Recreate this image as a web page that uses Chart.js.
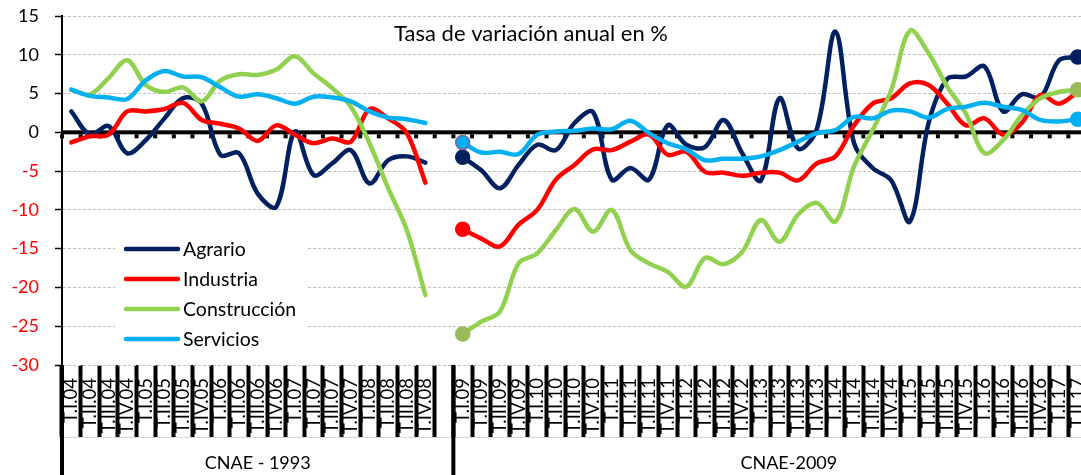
<!DOCTYPE html>
<html>
<head>
<meta charset="utf-8">
<script src="https://cdn.jsdelivr.net/npm/chart.js@4"></script>
<style>
  html, body { margin: 0; padding: 0; background: #fff; overflow: hidden; }
  #wrap { width: 1081px; height: 475px; overflow: hidden; }
</style>
</head>
<body>
<div id="wrap"><canvas id="chart" width="1100" height="475"></canvas></div>
<script>
// === Data ===
const labels1993 = [
  "T.I.04", "T.II.04", "T.III.04", "T.IV.04",
  "T.I.05", "T.II.05", "T.III.05", "T.IV.05",
  "T.I.06", "T.II.06", "T.III.06", "T.IV.06",
  "T.I.07", "T.II.07", "T.III.07", "T.IV.07",
  "T.I.08", "T.II.08", "T.III.08", "T.IV.08",
];
const labels2009 = [
  "T.I.09", "T.II.09", "T.III.09", "T.IV.09",
  "T.I.10", "T.II.10", "T.III.10", "T.IV.10",
  "T.I.11", "T.II.11", "T.III.11", "T.IV.11",
  "T.I.12", "T.II.12", "T.III.12", "T.IV.12",
  "T.I.13", "T.II.13", "T.III.13", "T.IV.13",
  "T.I.14", "T.II.14", "T.III.14", "T.IV.14",
  "T.I.15", "T.II.15", "T.III.15", "T.IV.15",
  "T.I.16", "T.II.16", "T.III.16", "T.IV.16",
  "T.I.17", "T.II.17",
];
// one blank quarter separates the two series
const quarters = [...labels1993, "", ...labels2009];

const groupNames = ["CNAE - 1993", "CNAE-2009"];
const groupSizes = [21, 36]; // quarters covered by each group on the axis

const agrario = [
  2.7, -0.3, 0.8, -2.7, -1.0, 1.8, 4.4, 3.7, -2.9, -2.7,
  -7.9, -9.6, 0.1, -5.5, -4.0, -2.3, -6.6, -3.6, -3.1, -3.9,
  null,
  -3.2, -4.9, -7.2, -4.2, -1.6, -2.3, 1.2, 2.6, -6.1, -4.6,
  -6.1, 0.9, -1.6, -1.9, 1.6, -2.7, -6.2, 4.4, -2.1, 0.4,
  13.0, -1.4, -4.6, -6.2, -11.5, 1.2, 6.9, 7.2, 8.5, 2.7,
  4.9, 4.5, 9.3, 9.7,
];
const industria = [
  -1.3, -0.5, -0.3, 2.7, 2.7, 3.0, 3.8, 1.6, 1.1, 0.5,
  -1.1, 0.9, -0.3, -1.4, -0.8, -1.2, 3.0, 1.8, -0.1, -6.5,
  null,
  -12.5, -13.7, -14.7, -11.9, -10.0, -6.1, -4.2, -2.2, -2.3, -1.2,
  -0.3, -2.9, -2.5, -5.1, -5.2, -5.6, -5.2, -5.2, -6.2, -4.0,
  -3.1, 0.9, 3.7, 4.4, 6.3, 6.1, 3.7, 0.9, 1.8, -0.3,
  1.2, 4.8, 3.7, 5.2,
];
const construccion = [
  5.5, 4.9, 7.0, 9.3, 6.1, 5.2, 5.8, 4.0, 6.7, 7.5,
  7.4, 8.1, 9.8, 7.6, 5.7, 3.3, -1.4, -7.2, -12.6, -21.0,
  null,
  -26.0, -24.4, -23.1, -16.9, -15.6, -12.6, -9.9, -12.8, -10.0, -15.2,
  -16.9, -18.0, -19.9, -16.2, -17.0, -15.4, -11.3, -14.1, -10.6, -9.1,
  -11.5, -4.4, 0.3, 5.5, 13.1, 10.2, 5.9, 2.4, -2.7, -1.0,
  2.2, 4.4, 5.2, 5.5,
];
const servicios = [
  5.5, 4.7, 4.5, 4.3, 6.7, 7.9, 7.2, 7.1, 5.8, 4.6,
  4.9, 4.4, 3.7, 4.6, 4.5, 4.0, 2.7, 1.9, 1.7, 1.2,
  null,
  -1.3, -2.6, -2.5, -2.8, -0.3, 0.1, 0.2, 0.5, 0.4, 1.5,
  -0.1, -1.4, -2.2, -3.6, -3.4, -3.4, -3.1, -2.3, -1.2, -0.1,
  0.3, 2.0, 1.8, 2.8, 2.7, 1.9, 3.0, 3.3, 3.8, 3.3,
  2.9, 1.6, 1.4, 1.7,
];

const FONT = "Lato, 'Open Sans', sans-serif";
const firstNew = labels1993.length + 1;
const lastIdx = quarters.length - 1;

// big dots where the new series starts / ends
function dotRadius(withEnd) {
  return (c) => (c.dataIndex === firstNew || (withEnd && c.dataIndex === lastIdx) ? 7 : 0);
}

function makeSeries(label, data, color, order, opts = {}) {
  return {
    label,
    data,
    order,
    borderColor: color,
    borderWidth: 4.5,
    tension: 0.35,
    spanGaps: false,
    fill: false,
    borderCapStyle: "round",
    borderJoinStyle: "round",
    pointRadius: dotRadius(opts.endDot !== false),
    pointBackgroundColor: opts.dotColor || color,
    pointBorderColor: opts.dotBorder || opts.dotColor || color,
    pointBorderWidth: 1.5,
  };
}

// === Extra Excel-like bits: zero axis, title, legend, group labels ===
const excelBits = {
  id: "excelBits",
  beforeDatasetsDraw(chart) {
    const { ctx, chartArea, scales } = chart;
    const x = scales.x, y = scales.y;
    const y0 = y.getPixelForValue(0);
    const w = x.getPixelForValue(1) - x.getPixelForValue(0);
    ctx.save();
    ctx.fillStyle = "#000";
    ctx.fillRect(chartArea.left, y0 - 2, chartArea.right - chartArea.left, 4);
    for (let i = 0; i <= quarters.length; i++) {
      const bx = x.getPixelForValue(i) - w / 2;
      ctx.fillRect(bx - 2, y0 + 2, 4, 4);
    }
    ctx.restore();
  },
  afterDraw(chart) {
    const { ctx, chartArea, scales } = chart;
    const x = scales.x;
    const w = x.getPixelForValue(1) - x.getPixelForValue(0);
    const edge = (i) => x.getPixelForValue(i) - w / 2;
    ctx.save();

    // title
    ctx.fillStyle = "#000";
    ctx.font = `22px ${FONT}`;
    ctx.textAlign = "center";
    ctx.textBaseline = "alphabetic";
    ctx.fillText("Tasa de variación anual en %", 531, 41);

    // legend box
    ctx.fillStyle = "#fff";
    ctx.fillRect(115, 230, 191, 122);
    ctx.font = `19.5px ${FONT}`;
    ctx.textAlign = "left";
    ctx.textBaseline = "middle";
    chart.data.datasets.forEach((ds, i) => {
      const ly = 249 + 30 * i;
      ctx.strokeStyle = ds.borderColor;
      ctx.lineWidth = 4.5;
      ctx.lineCap = "round";
      ctx.beginPath();
      ctx.moveTo(126, ly);
      ctx.lineTo(178, ly);
      ctx.stroke();
      ctx.fillStyle = "#000";
      ctx.fillText(ds.label, 183, ly + 1);
    });

    // second level of the category axis
    const top = chartArea.bottom + 72;
    ctx.strokeStyle = "#d9d9d9";
    ctx.lineWidth = 1;
    ctx.beginPath();
    ctx.moveTo(chartArea.left, top + 0.5);
    ctx.lineTo(chart.width, top + 0.5);
    ctx.stroke();
    let start = 0;
    ctx.fillStyle = "#000";
    ctx.font = `18px ${FONT}`;
    ctx.textAlign = "center";
    groupNames.forEach((name, g) => {
      const end = start + groupSizes[g];
      const x1 = edge(start), x2 = edge(end);
      ctx.fillRect(x1 - 2, chartArea.bottom, 4, chart.height - chartArea.bottom);
      ctx.fillText(name, (x1 + x2) / 2, 463);
      start = end;
    });
    ctx.restore();
  },
};

// === Chart ===
new Chart(document.getElementById("chart"), {
  type: "line",
  data: {
    labels: quarters,
    datasets: [
      makeSeries("Agrario", agrario, "#002060", 4),
      makeSeries("Industria", industria, "#ff0000", 3, { endDot: false }),
      makeSeries("Construcción", construccion, "#92d050", 2, { dotColor: "#9bbb59" }),
      makeSeries("Servicios", servicios, "#00b0f0", 1, {
        dotBorder: (c) => (c.dataIndex === firstNew ? "#8064a2" : "#00b0f0"),
      }),
    ],
  },
  options: {
    responsive: false,
    animation: false,
    layout: { padding: { top: 16, right: 13, left: 0, bottom: 0 } },
    plugins: {
      legend: { display: false },
      tooltip: { enabled: false },
      title: { display: false },
    },
    scales: {
      x: {
        type: "category",
        offset: true,
        border: { display: false },
        grid: {
          offset: true,
          drawOnChartArea: false,
          drawTicks: true,
          tickLength: 72,
          tickWidth: 4,
          tickColor: "#000",
        },
        ticks: {
          autoSkip: false,
          minRotation: 90,
          maxRotation: 90,
          padding: -59,
          color: "#000",
          font: { family: FONT, size: 18.5 },
        },
        afterFit: (s) => { s.height = 110; },
      },
      y: {
        min: -30,
        max: 15,
        border: { display: true, color: "#000", width: 2, dash: [3, 2] },
        grid: {
          color: (c) => (c.tick.value === 0 ? "rgba(0,0,0,0)" : "#bfbfbf"),
          lineWidth: 1,
          tickLength: 7,
          tickColor: "#000",
          tickWidth: 1.5,
          tickBorderDash: [],
        },
        ticks: {
          stepSize: 5,
          padding: 16,
          color: (c) => (c.tick.value < 0 ? "#ff0000" : "#000"),
          font: { family: FONT, size: 18 },
        },
        afterFit: (s) => {
          s.width = 62;
          s.paddingTop = 0;
          s.paddingBottom = 0;
        },
      },
    },
  },
  plugins: [excelBits],
});
</script>
</body>
</html>
